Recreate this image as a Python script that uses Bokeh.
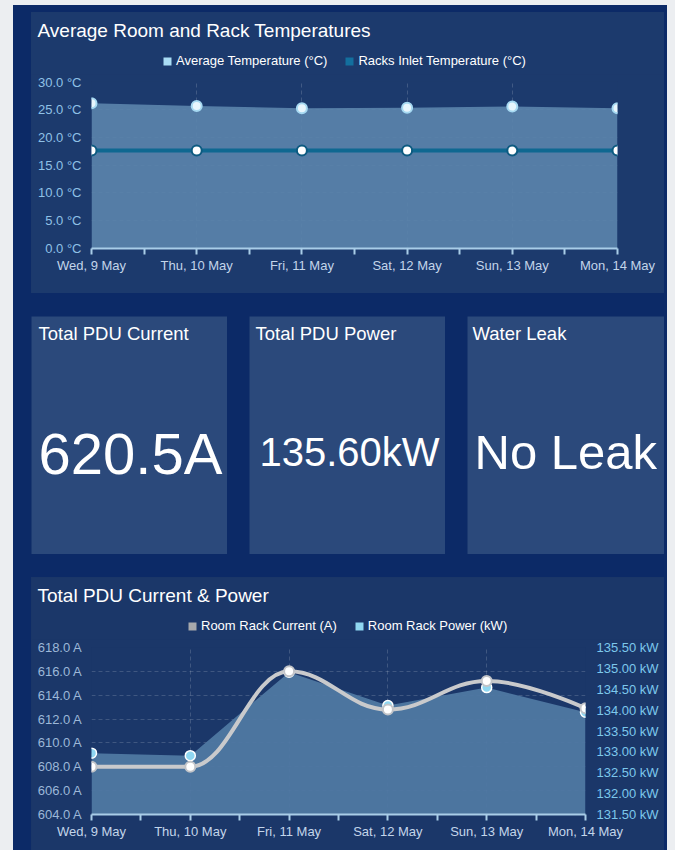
from bokeh.plotting import figure
from bokeh.models import (Range1d, LinearAxis, FixedTicker, PrintfTickFormatter,
                          Legend, LegendItem, Label, Spacer)
from bokeh.layouts import column, row
from bokeh.embed import file_html
from bokeh.resources import INLINE

# ---------------- data ----------------
days = ["Wed, 9 May", "Thu, 10 May", "Fri, 11 May", "Sat, 12 May", "Sun, 13 May", "Mon, 14 May"]
avg_temp = [26.1, 25.6, 25.2, 25.3, 25.5, 25.2]
rack_inlet = [17.6, 17.6, 17.6, 17.6, 17.6, 17.6]
temp_ticks = [0, 5, 10, 15, 20, 25, 30]

current_a = [608.0, 608.0, 616.0, 612.8, 615.2, 612.9]
power_kw = [132.97, 132.91, 134.91, 134.11, 134.54, 133.95]
current_ticks = [604, 606, 608, 610, 612, 614, 616, 618]
power_ticks = [131.5, 132.0, 132.5, 133.0, 133.5, 134.0, 134.5, 135.0, 135.5]

kpi_titles = ["Total PDU Current", "Total PDU Power", "Water Leak"]
kpi_values = ["620.5A", "135.60kW", "No Leak"]

# ---------------- style ----------------
FONT = "Liberation Sans"
PAGE = "#eceef1"
BG = "#0c2a67"
PANEL_TOP = "#1c3a6d"
PANEL_BOT = "#1b3769"
PANEL_KPI = "#2b497b"
W = 633
HEADER_H = 62
NAN = float("nan")

x_idx = list(range(len(days)))
mid_ticks = [i + 0.5 for i in x_idx[:-1]]
day_labels = {i: d for i, d in enumerate(days)}


def style_x_axis(p):
    ax = p.xaxis[0]
    ax.ticker = FixedTicker(ticks=x_idx, minor_ticks=mid_ticks)
    ax.major_label_overrides = day_labels
    ax.axis_line_color = "#a9cde8"
    ax.axis_line_width = 2
    ax.major_tick_line_color = "#a9cde8"
    ax.minor_tick_line_color = "#a9cde8"
    ax.major_tick_line_width = 2
    ax.minor_tick_line_width = 2
    ax.major_tick_in = 0
    ax.major_tick_out = 6
    ax.minor_tick_in = 0
    ax.minor_tick_out = 6
    ax.major_label_standoff = 3
    ax.major_label_text_color = "#c3d5ea"
    ax.major_label_text_font = FONT
    ax.major_label_text_font_size = "13px"


def style_y_axis(ax, color, standoff):
    ax.axis_line_color = None
    ax.major_tick_line_color = None
    ax.minor_tick_line_color = None
    ax.major_tick_out = 0
    ax.major_tick_in = 0
    ax.minor_tick_out = 0
    ax.minor_tick_in = 0
    ax.major_label_standoff = standoff
    ax.major_label_text_color = color
    ax.major_label_text_font = FONT
    ax.major_label_text_font_size = "13px"


def style_grid(p):
    p.xgrid.ticker = FixedTicker(ticks=x_idx)
    for g in (p.xgrid[0], p.ygrid[0]):
        g.grid_line_color = "#ffffff"
        g.grid_line_alpha = 0.16
        g.grid_line_dash = "4 3"


def header(title, names, colors, legend_x, fill):
    h = figure(width=W, height=HEADER_H, output_backend="svg", toolbar_location=None,
               x_range=Range1d(0, 1), y_range=Range1d(0, 1),
               x_axis_location=None, y_axis_location=None, min_border=0,
               background_fill_color=fill, border_fill_color=fill, outline_line_color=None)
    h.grid.visible = False
    h.add_layout(Label(x=6, y=HEADER_H - 17.5, x_units="screen", y_units="screen", text=title,
                       text_color="#ffffff", text_font=FONT, text_font_size="19px",
                       text_baseline="alphabetic"))
    items = []
    for n, c in zip(names, colors):
        # legend swatch only (NaN geometry draws nothing in the plot area)
        r = h.quad(left=[NAN], right=[NAN], top=[NAN], bottom=[NAN], fill_color=c, line_color=None)
        items.append(LegendItem(label=n, renderers=[r]))
    h.add_layout(Legend(items=items, location=(legend_x, 6), orientation="horizontal",
                        glyph_width=10, glyph_height=10, label_standoff=4, spacing=17,
                        padding=0, margin=0, border_line_color=None, background_fill_alpha=0,
                        label_text_color="#ffffff", label_text_font=FONT,
                        label_text_font_size="13px", label_height=14))
    return h


def block(head, chart, fill):
    inner_col = column([row([head], spacing=0), row([chart], spacing=0)], spacing=0,
                       styles={"background-color": fill})
    return row([Spacer(width=18), inner_col, Spacer(width=3)], spacing=0)


# ---------------- top chart ----------------
h1 = header("Average Room and Rack Temperatures",
            ["Average Temperature (°C)", "Racks Inlet Temperature (°C)"],
            ["#a9dcf4", "#136f9e"], 131, PANEL_TOP)

p1 = figure(width=W, height=281 - HEADER_H, output_backend="svg", toolbar_location=None,
            x_range=Range1d(x_idx[0], x_idx[-1]), y_range=Range1d(temp_ticks[0], temp_ticks[-1]),
            min_border_left=60, min_border_right=47, min_border_top=7, min_border_bottom=45,
            background_fill_color=PANEL_TOP, border_fill_color=PANEL_TOP,
            outline_line_color=None)
style_x_axis(p1)
style_grid(p1)
ya = p1.yaxis[0]
ya.ticker = FixedTicker(ticks=temp_ticks)
ya.formatter = PrintfTickFormatter(format="%.1f °C")
style_y_axis(ya, "#8fc1e6", 10)

p1.varea(x=x_idx, y1=temp_ticks[0], y2=avg_temp, fill_color="#5a83ab", fill_alpha=0.92)
p1.line(x_idx, rack_inlet, line_color="#0f6891", line_width=4)
p1.scatter(x_idx, avg_temp, size=10, fill_color="#e8f6fd", line_color="#a6d9f2", line_width=2)
p1.scatter(x_idx, rack_inlet, size=10, fill_color="#ffffff", line_color="#0d5a80", line_width=2)

# ---------------- KPI panels ----------------
kpi_widths = [196, 196, 197]
kpi_sizes = ["58px", "40px", "49px"]
kpi_title_x = [7, 6, 5]
kpi_value_x = [7, 10, 7]
kpi_value_y = [101, 103, 103]
kpis = []
for i, (t, v) in enumerate(zip(kpi_titles, kpi_values)):
    k = figure(width=kpi_widths[i], height=238, output_backend="svg", toolbar_location=None,
               x_range=Range1d(0, 1), y_range=Range1d(0, 1),
               x_axis_location=None, y_axis_location=None,
               min_border=0, background_fill_color=PANEL_KPI, border_fill_color=PANEL_KPI,
               outline_line_color=None)
    k.grid.visible = False
    k.add_layout(Label(x=kpi_title_x[i], y=221, x_units="screen", y_units="screen", text=t,
                       text_color="#ffffff", text_font=FONT, text_font_size="18.5px",
                       text_baseline="alphabetic"))
    k.add_layout(Label(x=kpi_value_x[i], y=kpi_value_y[i], x_units="screen", y_units="screen",
                       text=v, text_color="#ffffff", text_font=FONT,
                       text_font_size=kpi_sizes[i], text_baseline="alphabetic"))
    kpis.append(k)
kpi_row = row([Spacer(width=18), kpis[0], Spacer(width=22), kpis[1], Spacer(width=22),
               kpis[2], Spacer(width=3)], spacing=0)

# ---------------- bottom chart ----------------
h3 = header("Total PDU Current & Power",
            ["Room Rack Current (A)", "Room Rack Power (kW)"],
            ["#a7a9ad", "#8fd7f1"], 156, PANEL_BOT)

p3 = figure(width=W, height=273 - HEADER_H, output_backend="svg", toolbar_location=None,
            x_range=Range1d(x_idx[0], x_idx[-1]),
            y_range=Range1d(current_ticks[0], current_ticks[-1]),
            min_border_left=60, min_border_right=79, min_border_top=8, min_border_bottom=36,
            background_fill_color=PANEL_BOT, border_fill_color=PANEL_BOT,
            outline_line_color=None)
p3.extra_y_ranges = {"power": Range1d(power_ticks[0], power_ticks[-1])}
style_x_axis(p3)
style_grid(p3)
yl = p3.yaxis[0]
yl.ticker = FixedTicker(ticks=current_ticks)
yl.formatter = PrintfTickFormatter(format="%.1f A")
yr = LinearAxis(y_range_name="power", ticker=FixedTicker(ticks=power_ticks),
                formatter=PrintfTickFormatter(format="%.2f kW"))
p3.add_layout(yr, "right")
style_y_axis(yl, "#9db8d8", 9)
style_y_axis(yr, "#7dc8ec", 11)

p3.varea(x=x_idx, y1=power_ticks[0], y2=power_kw, fill_color="#4f78a2", fill_alpha=0.95,
         y_range_name="power")


def spline_controls(xs, ys, smoothing=1.5):
    denom = smoothing + 1
    n = len(xs)
    left = [(xs[i], ys[i]) for i in range(n)]
    right = [(xs[i], ys[i]) for i in range(n)]
    for i in range(1, n - 1):
        lx, ly = xs[i - 1], ys[i - 1]
        nx, ny = xs[i + 1], ys[i + 1]
        px, py = xs[i], ys[i]
        lcx = (smoothing * px + lx) / denom
        lcy = (smoothing * py + ly) / denom
        rcx = (smoothing * px + nx) / denom
        rcy = (smoothing * py + ny) / denom
        corr = ((rcy - lcy) * (rcx - px)) / (rcx - lcx) + py - rcy
        lcy += corr
        rcy += corr
        if lcy > ly and lcy > py:
            lcy = max(ly, py); rcy = 2 * py - lcy
        elif lcy < ly and lcy < py:
            lcy = min(ly, py); rcy = 2 * py - lcy
        if rcy > ny and rcy > py:
            rcy = max(ny, py); lcy = 2 * py - rcy
        elif rcy < ny and rcy < py:
            rcy = min(ny, py); lcy = 2 * py - rcy
        left[i] = (lcx, lcy)
        right[i] = (rcx, rcy)
    return left, right


lc, rc = spline_controls(x_idx, current_a)
p3.bezier(x0=x_idx[:-1], y0=current_a[:-1], x1=x_idx[1:], y1=current_a[1:],
          cx0=[c[0] for c in rc[:-1]], cy0=[c[1] for c in rc[:-1]],
          cx1=[c[0] for c in lc[1:]], cy1=[c[1] for c in lc[1:]],
          line_color="#c9cacc", line_width=4)
p3.scatter(x_idx, power_kw, size=10, fill_color="#8fd7f1", line_color="#ffffff", line_width=1.5,
           y_range_name="power")
p3.scatter(x_idx, current_a, size=10, fill_color="#ffffff", line_color="#c2c4c8", line_width=2)

inner = column([Spacer(height=7),
                block(h1, p1, PANEL_TOP),
                Spacer(height=23),
                kpi_row,
                Spacer(height=23),
                block(h3, p3, PANEL_BOT)],
               spacing=0, styles={"background-color": BG})

page = column([Spacer(height=5), row([Spacer(width=13), inner, Spacer(width=8)], spacing=0)],
              spacing=0, styles={"background-color": PAGE})

open("out.html", "w").write(file_html(page, INLINE))
